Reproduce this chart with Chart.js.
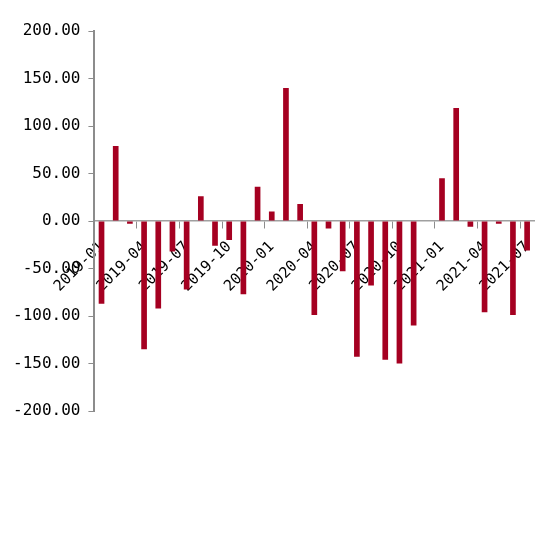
<!DOCTYPE html>
<html>
<head>
<meta charset="utf-8">
<script src="https://cdn.jsdelivr.net/npm/chart.js@4/dist/chart.umd.min.js"></script>
<style>
  html, body { margin: 0; padding: 0; background: #fff; }
  #wrap { width: 550px; height: 538px; position: relative; }
</style>
</head>
<body>
<div id="wrap"><canvas id="barChart"></canvas></div>
<script>
// Months shown on the x axis
const months = [
  '2019-01', '2019-02', '2019-03', '2019-04', '2019-05', '2019-06',
  '2019-07', '2019-08', '2019-09', '2019-10', '2019-11', '2019-12',
  '2020-01', '2020-02', '2020-03', '2020-04', '2020-05', '2020-06',
  '2020-07', '2020-08', '2020-09', '2020-10', '2020-11', '2020-12',
  '2021-01', '2021-02', '2021-03', '2021-04', '2021-05', '2021-06',
  '2021-07'
];

// Monthly values
const values = [
  -87, 79, -3, -135, -92, -32,
  -72, 26, -26, -20, -77, 36,
  10, 140, 18, -99, -8, -53,
  -143, -68, -146, -150, -110, 0,
  45, 119, -6, -96, -3, -99,
  -31
];

// Y axis range
const yMin = -200;
const yMax = 200;
const yStep = 50;

const axisGray = '#8c8c8c';
const fontFamily = '"DejaVu Sans Mono", monospace';

const ctx = document.getElementById('barChart').getContext('2d');
const barChart = new Chart(ctx, {
  type: 'bar',
  data: {
    labels: months,
    datasets: [
      {
        data: values,
        backgroundColor: '#a50021',
        borderWidth: 0,
        categoryPercentage: 0.8,
        barPercentage: 0.5,
      },
    ],
  },
  options: {
    responsive: true,
    maintainAspectRatio: false,
    animation: false,
    layout: {
      padding: { top: 31, left: 5, right: 9, bottom: 127 },
    },
    plugins: {
      legend: { display: false },
      tooltip: { enabled: false },
    },
    scales: {
      x: {
        // x axis sits on the zero line
        position: { y: 0 },
        // keep the month labels at a fixed 45 degrees
        afterCalculateLabelRotation: function (scale) {
          scale.labelRotation = 45;
        },
        grid: {
          drawOnChartArea: false,
          tickLength: 7,
          // only mark the quarter boundaries
          tickColor: (c) => (c.index % 3 === 0 ? axisGray : 'rgba(0,0,0,0)'),
        },
        border: { color: '#a0a0a0', width: 1.5 },
        ticks: {
          autoSkip: false,
          minRotation: 45,
          maxRotation: 45,
          padding: 10,
          color: '#000',
          font: { family: fontFamily, size: 15 },
          callback: function (value, index) {
            return index % 3 === 0 ? months[index] : '';
          },
        },
      },
      y: {
        min: yMin,
        max: yMax,
        grid: {
          drawOnChartArea: false,
          tickLength: 6,
          color: axisGray,
        },
        border: { color: axisGray, width: 2 },
        ticks: {
          stepSize: yStep,
          padding: 8,
          color: '#000',
          font: { family: fontFamily, size: 16 },
          callback: (v) => v.toFixed(2),
        },
      },
    },
  },
});
</script>
</body>
</html>
